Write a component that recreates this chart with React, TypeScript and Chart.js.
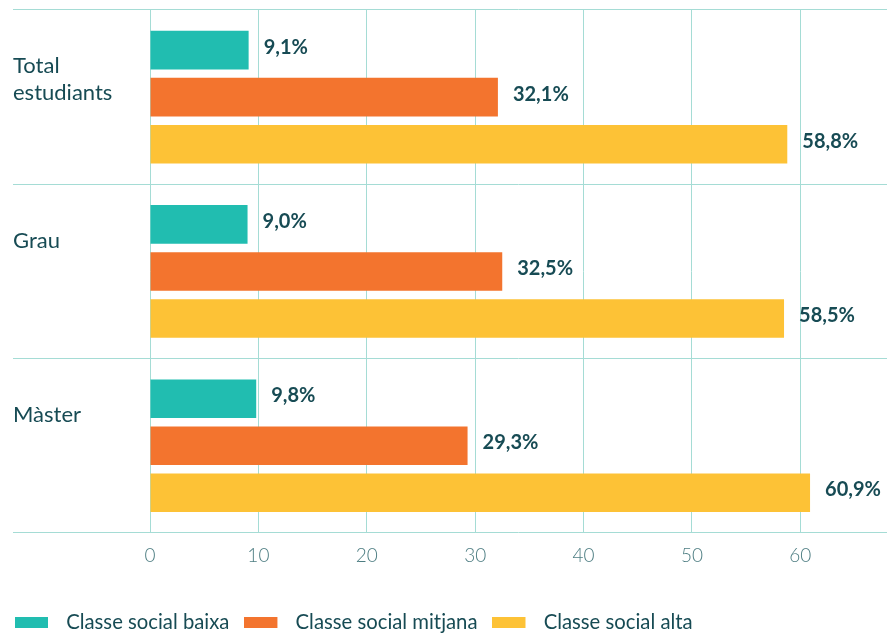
import React, { useEffect, useRef } from 'react';
import { Chart, registerables } from 'chart.js';

Chart.register(...registerables);

// first category label carries a leading blank line so its text block sits where the reference has it
const categories: (string | string[])[] = [['', 'Total', 'estudiants'], 'Grau', 'Màster'];
const seriesNames = ['Classe social baixa', 'Classe social mitjana', 'Classe social alta'];
const baixa = [9.1, 9.0, 9.8];
const mitjana = [32.1, 32.5, 29.3];
const alta = [58.8, 58.5, 60.9];
const xTickValues = [0, 10, 20, 30, 40, 50, 60];
const xMin = 0;
const xMax = 68;

const COLORS = ['#21bdb0', '#f3742e', '#fdc236'];
const TEXT = '#174b54';
const TICK = '#4d7d82';
const GRID = '#a5dcd5';
const FONT = 'Lato, "Noto Sans", sans-serif';

const fmt = (v: number) => v.toFixed(1).replace('.', ',') + '%';

const valueLabels = {
  id: 'valueLabels',
  afterDatasetsDraw(chart: any) {
    const ctx = chart.ctx;
    ctx.save();
    ctx.font = `bold 20px ${FONT}`;
    ctx.fillStyle = TEXT;
    ctx.textAlign = 'left';
    ctx.textBaseline = 'middle';
    chart.data.datasets.forEach((ds: any, i: number) => {
      const meta = chart.getDatasetMeta(i);
      meta.data.forEach((bar: any, j: number) => {
        ctx.fillText(fmt(ds.data[j]), bar.x + 15, bar.y - 3);
      });
    });
    ctx.restore();
  },
};

const LEGEND_PAD = 15;
const legendPlace = {
  id: 'legendPlace',
  afterLayout(chart: any) {
    const lg = chart.legend;
    if (!lg) return;
    const dx = 15 - (lg.left + LEGEND_PAD);
    lg.left += dx;
    lg.right += dx;
    const newTop = 612 - LEGEND_PAD;
    const dy = newTop - lg.top;
    lg.top += dy;
    lg.bottom += dy;
  },
};

function makeSwatch(color: string) {
  const c = document.createElement('canvas');
  c.width = 41;
  c.height = 11;
  const g = c.getContext('2d')!;
  g.fillStyle = color;
  g.fillRect(0, 0, 33, 11);
  return c;
}

export default function App() {
  const ref = useRef<HTMLCanvasElement | null>(null);

  useEffect(() => {
    if (!ref.current) return;
    const data = [baixa, mitjana, alta];
    const swatches = COLORS.map(makeSwatch);
    const chart = new Chart(ref.current, {
      type: 'bar',
      data: {
        labels: categories as any,
        datasets: seriesNames.map((name, i) => ({
          label: name,
          data: data[i],
          backgroundColor: COLORS[i],
          borderWidth: 0,
          categoryPercentage: 0.81,
          barPercentage: 0.82,
        })),
      },
      options: {
        indexAxis: 'y',
        animation: false,
        responsive: true,
        maintainAspectRatio: false,
        layout: { padding: { left: 13, right: 8, top: 10, bottom: 8 } },
        plugins: {
          tooltip: { enabled: false },
          legend: {
            position: 'bottom',
            align: 'start',
            labels: {
              usePointStyle: true,
              pointStyleWidth: 41,
              boxHeight: 11,
              padding: LEGEND_PAD,
              color: TEXT,
              font: { family: FONT, size: 20.3 },
              generateLabels: (ch: any) =>
                (Chart as any).defaults.plugins.legend.labels
                  .generateLabels(ch)
                  .map((it: any, i: number) => ({ ...it, pointStyle: swatches[i], lineWidth: 0 })),
            },
          },
        },
        scales: {
          x: {
            type: 'linear',
            min: xMin,
            max: xMax,
            afterBuildTicks: (scale: any) => {
              scale.ticks = xTickValues.map((v) => ({ value: v }));
            },
            grid: { color: GRID, lineWidth: 1, drawTicks: false },
            border: { display: false },
            ticks: {
              color: TICK,
              padding: 12,
              font: { family: FONT, size: 19, weight: 300 as any },
            },
          },
          y: {
            type: 'category',
            afterFit: (scale: any) => {
              scale.width = 137;
              scale.paddingTop = 0;
              scale.paddingBottom = 0;
            },
            grid: { offset: true, color: GRID, lineWidth: 1, drawTicks: true, tickLength: 137 },
            border: { display: false },
            ticks: {
              crossAlign: 'far',
              labelOffset: -31,
              color: TEXT,
              font: { family: FONT, size: 22 },
            },
          },
        },
      },
      plugins: [valueLabels, legendPlace],
    });
    return () => chart.destroy();
  }, []);

  return (
    <div style={{ position: 'fixed', left: 0, top: 0, width: 895, height: 633, background: '#fff' }}>
      <canvas ref={ref} />
    </div>
  );
}
